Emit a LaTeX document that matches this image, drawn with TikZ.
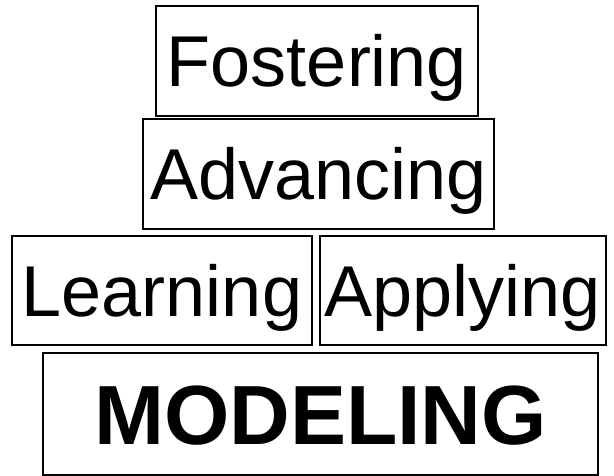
\documentclass[tikz,border=0pt]{standalone}
\usepackage{fontspec}
\setmainfont{Liberation Sans}
\usetikzlibrary{positioning}

\begin{document}
\begin{tikzpicture}[x=1pt, y=-1pt, tier/.style={draw=black, line width=1.4pt, inner sep=0pt, text height=51.6pt, text depth=0pt, font=\fontsize{72}{72}\selectfont}, basetier/.style={tier, text height=60.1pt, font=\fontsize{84}{84}\selectfont\bfseries}]
	\useasboundingbox (0,0) rectangle (614,475);
	\node[tier, minimum width=322pt, minimum height=110pt] (fostering) at (317,61) {Fostering};
	\node[tier, minimum width=351pt, minimum height=110pt] (advancing) at (318.5,174) {Advancing};
	\node[tier, minimum width=300pt, minimum height=109pt] (learning) at (162,290.5) {Learning};
	\node[tier, minimum width=286pt, minimum height=109pt] (applying) at (463,290.5) {Applying};
	\node[basetier, minimum width=555pt, minimum height=122pt] (modeling) at (320.5,414) {MODELING};
\end{tikzpicture}
\end{document}
